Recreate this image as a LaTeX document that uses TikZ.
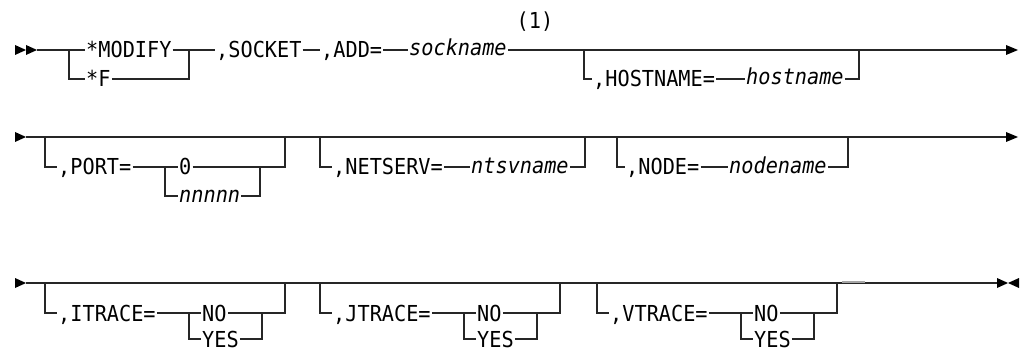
\documentclass[tikz,border=0pt]{standalone}
\usepackage{fontspec}
\setmonofont[FakeStretch=0.92]{DejaVu Sans Mono}
\usepackage{tikz}

\begin{document}
\begin{tikzpicture}[x=1pt,y=-1pt,
    kw/.style={anchor=west,font=\railfont,inner xsep=1pt,inner ysep=0pt,text height=16pt,text depth=0pt},
    var/.style={kw,font=\railfont\itshape,text height=12pt},
    rail/.style={line width=1.2pt,color=black!85}]
    \def\railfont{\ttfamily\fontsize{22}{26}\selectfont}
    \useasboundingbox (0,0) rectangle (1023,350);

    % first line
    \foreach \x in {15,26} \fill (\x,45) -- (\x+11,50) -- (\x,55) -- cycle;
    \coordinate (r1s) at (37,50);
    \coordinate (r1e) at (1007,50);
    \node[kw] (modify) at (85,50) {*MODIFY};
    \node[kw] (f) at (85,79) {*F};
    \node[kw] (socket) at (215,50) {,SOCKET};
    \node[kw] (add) at (320,50) {,ADD=};
    \node[var] (sockname) at (408,50) {sockname};
    \node[font=\railfont] (note) at (535,22) {(1)};
    \node[kw] (hostkey) at (592,79) {,HOSTNAME=};
    \node[var] (hostname) at (745,79) {hostname};
    \coordinate (m1) at (69,50); \coordinate (m2) at (189,50);
    \coordinate (h1) at (584,50); \coordinate (h2) at (859,50);
    \draw[rail] (r1s) -- (modify.west) (modify.east) -- (socket.west)
        (socket.east) -- (add.west) (add.east) -- (sockname.west)
        (sockname.east) -- (r1e);
    \draw[rail] (m1) |- (f.west) (f.east) -| (m2);
    \draw[rail] (h1) |- (hostkey.west) (hostkey.east) -- (hostname.west)
        (hostname.east) -| (h2);
    \fill (1006,45) -- (1018,50) -- (1006,55) -- cycle;

    % second line
    \fill (15,132) -- (26,137) -- (15,142) -- cycle;
    \coordinate (r2s) at (26,137);
    \coordinate (r2e) at (1007,137);
    \draw[rail] (r2s) -- (r2e);
    \node[kw] (port) at (57,167) {,PORT=};
    \node[kw] (zero) at (178,167) {0};
    \node[var] (nnnnn) at (178,196) {nnnnn};
    \coordinate (p1) at (45,137); \coordinate (p2) at (285,137);
    \coordinate (q1) at (165,167); \coordinate (q2) at (260,167);
    \draw[rail] (p1) |- (port.west) (port.east) -- (zero.west) (zero.east) -| (p2);
    \draw[rail] (q1) |- (nnnnn.west) (nnnnn.east) -| (q2);
    \node[kw] (netkey) at (332,167) {,NETSERV=};
    \node[var] (ntsvname) at (470,167) {ntsvname};
    \coordinate (n1) at (320,137); \coordinate (n2) at (585,137);
    \draw[rail] (n1) |- (netkey.west) (netkey.east) -- (ntsvname.west)
        (ntsvname.east) -| (n2);
    \node[kw] (nodekey) at (625,167) {,NODE=};
    \node[var] (nodename) at (728,167) {nodename};
    \coordinate (o1) at (617,137); \coordinate (o2) at (848,137);
    \draw[rail] (o1) |- (nodekey.west) (nodekey.east) -- (nodename.west)
        (nodename.east) -| (o2);
    \fill (1006,132) -- (1018,137) -- (1006,142) -- cycle;

    % third line
    \fill (15,278) -- (26,283) -- (15,288) -- cycle;
    \coordinate (r3s) at (26,283);
    \coordinate (r3e) at (997,283);
    \draw[rail] (r3s) -- (r3e);
    \foreach \k/\x in {I/45,J/320,V/597} {
        \node[kw] (\k key) at (\x+12,313) {,\k TRACE=};
        \node[kw] (\k no) at (\x+156,313) {NO};
        \node[kw] (\k yes) at (\x+156,339) {YES};
        \coordinate (\k a) at (\x,283);
        \coordinate (\k b) at (\x+144,313);
        \coordinate (\k c) at (\x+217,313);
        \coordinate (\k d) at (\x+240,283);
        \draw[rail] (\k a) |- (\k key.west) (\k key.east) -- (\k no.west)
            (\k no.east) -| (\k d);
        \draw[rail] (\k b) |- (\k yes.west) (\k yes.east) -| (\k c);
    }
    \coordinate (g1) at (842,281.5); \coordinate (g2) at (865,281.5);
    \draw[line width=2pt,gray!70] (g1) -- (g2);
    \fill (997,278) -- (1008,283) -- (997,288) -- cycle;
    \fill (1019,278) -- (1008,283) -- (1019,288) -- cycle;
\end{tikzpicture}
\end{document}
